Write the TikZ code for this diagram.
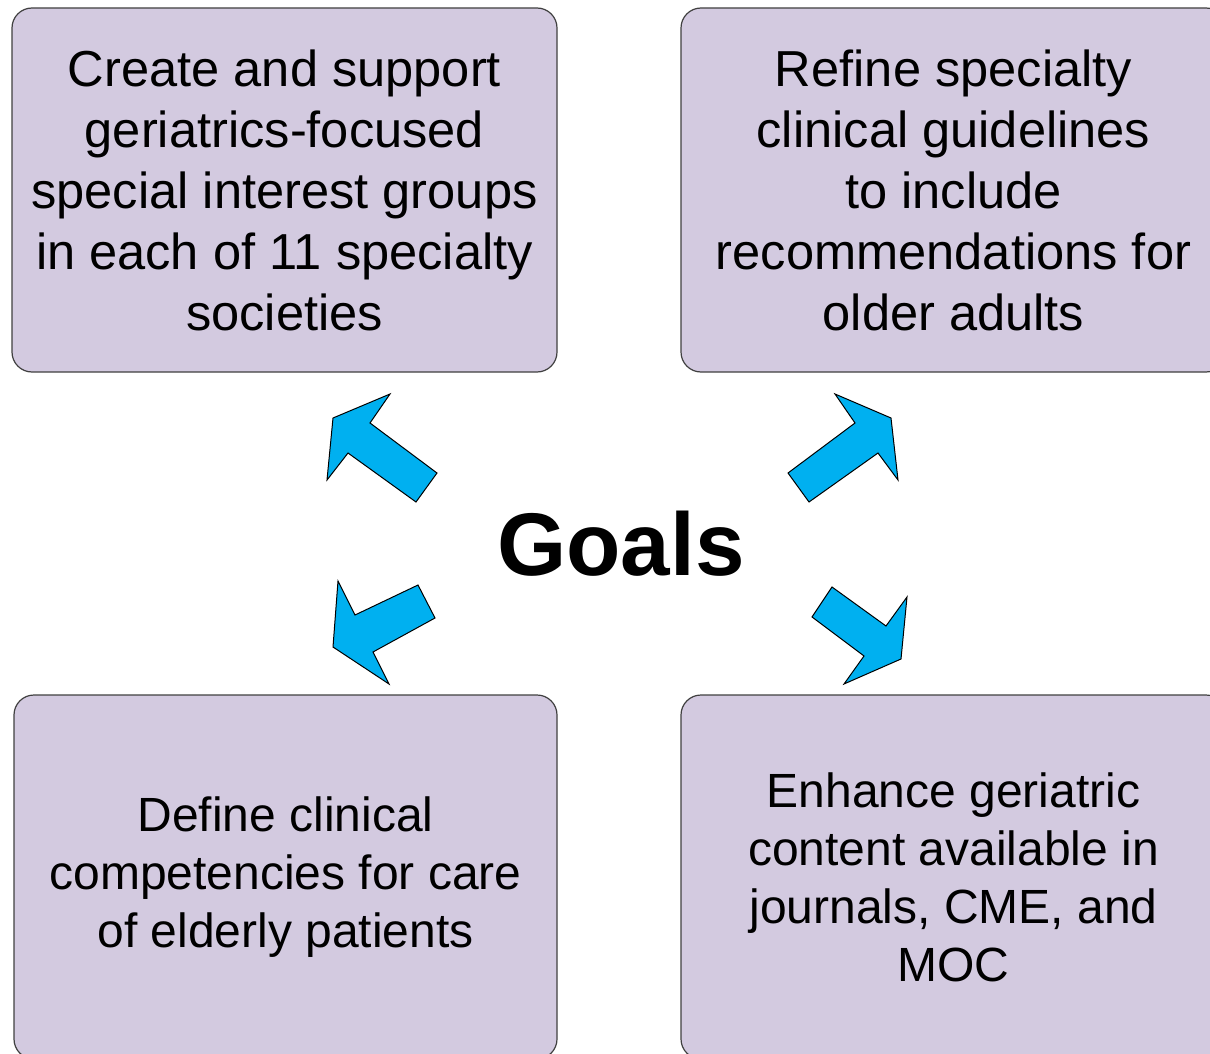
\documentclass[tikz,border=0pt]{standalone}
\usepackage{fontspec}
\setmainfont{Liberation Sans}
\definecolor{boxfill}{HTML}{D3CAE0}
\definecolor{arrowfill}{HTML}{00B0F0}
\tikzset{
    goalbox/.style={draw=black!75, fill=boxfill, rounded corners=10pt,
        line width=0.6pt, minimum width=272.5pt, minimum height=182pt,
        align=center, inner sep=0pt},
    topfont/.style={font=\fontsize{25.3}{30.5}\selectfont},
    lowfont/.style={font=\fontsize{24}{29}\selectfont},
    blockarrow/.style={draw=black, fill=arrowfill, line width=0.5pt,
        line join=miter}
}
\begin{document}
\begin{tikzpicture}[x=0.5pt,y=-0.5pt]
    \useasboundingbox (0,0) rectangle (1210,1054);
    \clip (0,0) rectangle (1210,1054);
    % the four goal boxes
    \node[goalbox,topfont] (sig) at (284.5,190)
        {Create and support\\geriatrics-focused\\special interest groups\\in each of 11 specialty\\societies};
    \node[goalbox,topfont] (guide) at (953.5,190)
        {Refine specialty\\clinical guidelines\\to include\\recommendations for\\older adults};
    \node[goalbox,lowfont,minimum width=271.5pt] (comp) at (285.5,877)
        {Define clinical\\competencies for care\\of elderly patients};
    \node[goalbox,lowfont] (content) at (953.5,877)
        {Enhance geriatric\\content available in\\journals, CME, and\\MOC};
    % centre label
    \node[font=\fontsize{44.5}{50}\selectfont\bfseries, anchor=base] (goals) at (621,575) {Goals};
    % block arrows
    \draw[blockarrow] (333,418) -- (390,394) -- (370,423) -- (437,473)
        -- (416,502) -- (348,453) -- (327,480) -- cycle;
    \draw[blockarrow] (891,418) -- (835,394) -- (855,423) -- (788,473)
        -- (809,502) -- (878,453) -- (898,480) -- cycle;
    \draw[blockarrow] (333,647) -- (338,581) -- (355,615) -- (418,585)
        -- (435,618) -- (373,652) -- (389,684) -- cycle;
    \draw[blockarrow] (901,659) -- (907,597) -- (886,626) -- (832,587)
        -- (812,617) -- (864,656) -- (844,684) -- cycle;
\end{tikzpicture}
\end{document}
